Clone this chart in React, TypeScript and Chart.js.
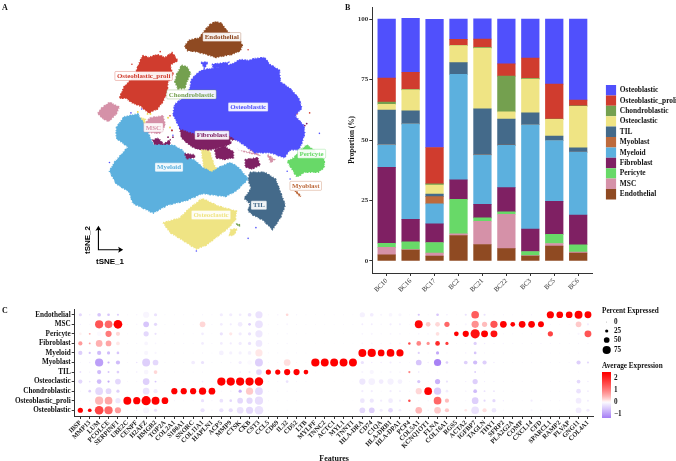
import React, { useEffect, useRef } from "react";
import { Chart, registerables } from "chart.js";
Chart.register(...registerables);

const SERIF = "'Liberation Serif', serif";
const SANS = "'Liberation Sans', sans-serif";

// ---------- colours ----------
const cOsteoblastic = "#5050fc";
const cProli = "#d03c2e";
const cChondro = "#74a04f";
const cClast = "#efe484";
const cTIL = "#446a8a";
const cMyoblast = "#bd6a3c";
const cMyeloid = "#5cb0de";
const cFibro = "#7f2063";
const cPericyte = "#68d968";
const cMSC = "#d591a8";
const cEndo = "#8f4a22";

// ---------- panel B: stacked proportions ----------
const samples = ["BC10", "BC16", "BC17", "BC2", "BC21", "BC22", "BC3", "BC5", "BC6"];
const propEndothelial = [2.5, 4.5, 2, 10.5, 6.8, 5.1, 2, 6.1, 3.2];
const propMSC = [3.1, 0.2, 1.2, 0.7, 9.6, 14.2, 0.2, 1.1, 0.5];
const propPericyte = [1.7, 3.2, 4.4, 14.3, 1.4, 1, 1.7, 3.8, 3];
const propFibroblast = [31.4, 9.3, 7.7, 8, 5.6, 10, 9.3, 13.6, 12.3];
const propMyeloid = [9.3, 39.5, 8.3, 43.7, 20.4, 17.5, 43.1, 25.2, 26];
const propMyoblast = [0.1, 0, 3, 0, 0.1, 0.1, 0, 0, 0];
const propTIL = [14.3, 5.4, 1, 4.8, 19, 10.7, 4.9, 1.8, 1.8];
const propOsteoclastic = [2.3, 8.6, 3.8, 7, 25.1, 3, 14, 6.9, 17.1];
const propChondroblastic = [1, 0.3, 0.5, 0.2, 0.3, 14.8, 0.3, 0.2, 0.2];
const propProli = [9.9, 7, 15, 2.4, 3.4, 5.1, 8.4, 14.4, 2.4];
const propOsteoblastic = [24.4, 22.3, 53, 8.4, 8.4, 18.5, 16.1, 26.9, 33.5];
const propSeries: [string, number[], string][] = [
  ["Endothelial", propEndothelial, cEndo],
  ["MSC", propMSC, cMSC],
  ["Pericyte", propPericyte, cPericyte],
  ["Fibroblast", propFibroblast, cFibro],
  ["Myeloid", propMyeloid, cMyeloid],
  ["Myoblast", propMyoblast, cMyoblast],
  ["TIL", propTIL, cTIL],
  ["Osteoclastic", propOsteoclastic, cClast],
  ["Chondroblastic", propChondroblastic, cChondro],
  ["Osteoblastic_proli", propProli, cProli],
  ["Osteoblastic", propOsteoblastic, cOsteoblastic],
];

// ---------- panel C: dot plot ----------
const features = ["IBSP","MMP13","LUM","PCOLCE","SERPINF1","UBE2C","CENPF","H2AFZ","HMGB2","TOP2A","COL2A1","S100A1","SNORC","COL11A1","HAPLN1","ACP5","MMP9","CTSK","CKB","CST3","CCL5","CD69","IL32","CD52","LTB","MYLPF","TNNC2","ACTC1","MYL1","TNNT1","HLA-DRA","CD74","C1QA","HLA-DRB1","HLA-DPA1","PCP4","COL5A1","KCNQ1OT1","FLNA","COL16A1","RGS5","ACTA2","IGFBP7","TAGLN","THY1","SFRP2","PLA2G2A","COMP","CXCL14","CFD","SPARCL1","RAMP2","PLVAP","GNG11","COL4A1"];
const rowNames = ["Osteoblastic","Osteoblastic_proli","Chondroblastic","Osteoclastic","TIL","Myoblast","Myeloid","Fibroblast","Pericyte","MSC","Endothelial"];

const pctOsteoblastic = [45,30,80,75,55,3,8,55,25,5,5,5,3,35,8,35,35,60,65,80,3,5,6,3,2,2,2,2,2,2,50,50,25,40,20,3,60,10,60,35,3,20,70,35,40,8,4,5,15,10,5,6,3,50,25];
const expOsteoblastic = [2.5,2.5,1.6,1.2,.7,-.1,-.2,-.1,-.3,-.1,-.1,-.1,-.1,-.3,-.1,-.3,-.35,-.3,-.4,-.3,-.1,-.1,-.1,-.1,-.1,-.1,-.1,-.1,-.1,-.1,-.4,-.5,-.2,-.4,-.2,-.1,.45,-.1,.3,.3,-.1,.1,-.3,.15,-.25,-.1,-.1,-.1,-.1,-.1,-.1,-.1,-.1,-.2,-.2];
const pctProli = [5,5,75,70,45,72,65,85,72,60,5,4,3,25,6,30,20,50,55,75,3,4,4,4,2,2,2,2,2,2,40,35,15,40,15,18,5,8,70,35,3,5,60,15,25,8,4,3,15,6,5,5,3,50,12];
const expProli = [-.1,-.1,.45,.6,-.25,2.5,2.5,2.5,2.5,2.5,-.1,-.1,-.1,-.3,-.1,-.3,-.4,-.4,-.4,-.35,-.1,-.1,-.1,-.1,-.1,-.1,-.1,-.1,-.1,-.1,-.25,-.25,-.2,-.2,-.2,1.5,-.1,-.1,1.2,.4,-.1,-.1,-.5,-.4,-.4,-.2,-.1,-.1,-.2,-.1,-.1,-.1,-.1,-.2,-.2];
const pctChondro = [5,20,70,50,25,3,5,60,35,5,55,55,55,65,60,5,10,25,65,70,3,5,5,3,2,2,2,2,2,2,15,15,4,15,10,3,55,70,65,20,3,10,30,12,10,5,3,3,6,5,3,3,3,40,10];
const expChondro = [-.1,-.5,-.4,-.4,-.5,-.1,-.1,-.3,-.2,-.1,2.5,2.5,2.5,2.5,2.5,-.1,-.1,-.8,.3,-.4,-.1,-.1,-.1,-.1,-.1,-.1,-.1,-.1,-.1,-.1,-.2,-.2,-.1,-.2,-.2,-.1,.2,2.5,-.55,-.2,-.1,-.1,-.7,-.3,-.3,-.1,-.1,-.1,-.1,-.1,-.1,-.1,-.1,-.3,-.2];
const pctClast = [35,10,40,15,50,4,5,60,12,3,3,5,3,10,3,75,75,75,75,78,5,5,20,5,3,2,2,2,2,2,55,60,40,55,40,3,25,5,45,15,3,6,45,6,5,4,3,3,5,4,3,3,3,30,8];
const expClast = [-.4,-.3,-.7,-.9,-.4,-.1,-.1,-.5,-.6,-.1,-.1,-.1,-.1,-.2,-.1,2.5,2.5,2.5,2.5,2.5,-.1,-.1,-.3,-.1,-.1,-.1,-.1,-.1,-.1,-.1,-.25,-.15,-.2,-.15,-.15,-.1,-.6,-.1,-.8,-.3,-.1,-.2,-.5,-.2,-.2,-.1,-.1,-.1,-.1,-.1,-.1,-.1,-.1,-.4,-.2];
const pctTIL = [12,5,35,12,20,3,8,40,30,3,3,3,3,5,3,6,5,10,15,50,45,45,55,55,40,2,2,2,2,2,15,35,6,15,10,15,8,4,3,4,2,3,12,3,3,2,2,2,2,3,2,2,2,3,3];
const expTIL = [-.3,-.2,-.7,-.6,-.5,-.1,-.2,-.1,.2,-.1,-.1,-.1,-.1,-.1,-.1,-.1,-.1,-.2,-.2,-.4,2.5,2.5,2.5,2.5,2.5,-.1,-.1,-.1,-.1,-.1,-.1,-.1,-.1,-.1,-.1,.9,-.3,-.1,-.1,-.1,-.1,-.1,-.5,-.1,-.1,-.1,-.1,-.1,-.1,-.1,-.1,-.1,-.1,-.1,-.1];
const pctMyoblast = [5,6,75,15,35,3,8,72,50,5,3,5,30,25,5,5,10,25,40,72,3,5,60,5,3,75,72,72,72,72,25,8,8,15,8,3,50,8,65,20,5,30,35,35,8,5,3,3,6,5,5,5,5,35,15];
const expMyoblast = [-.1,-.2,-1,-.8,-.7,-.1,-.3,-.5,-.4,-.1,-.1,-.1,-.2,-.3,-.1,-.1,-.1,-.2,-.05,-.5,-.1,-.1,.15,-.1,-.1,2.5,2.5,2.5,2.5,2.5,-.3,-.2,-.2,-.2,-.2,-.1,-.6,-.2,-1.3,-.5,-.1,-.5,-.7,-.5,-.2,-.1,-.1,-.1,-.1,-.1,-.1,-.1,-.1,-.5,-.4];
const pctMyeloid = [35,15,35,25,20,3,5,35,15,3,3,3,3,8,3,40,25,25,30,65,5,6,6,6,3,2,2,2,2,2,72,75,60,70,65,3,15,5,25,5,2,6,20,5,4,3,2,2,3,4,3,3,3,4,4];
const expMyeloid = [-.5,-.6,-.7,-.7,-.6,-.1,-.1,-.1,-.1,-.1,-.1,-.1,-.1,-.1,-.1,-.15,-.15,-.15,-.15,.1,-.1,-.1,-.1,-.1,-.1,-.1,-.1,-.1,-.1,-.1,2.5,2.5,2.5,2.5,2.5,-.1,-.5,-.1,-.9,-.1,-.1,-.2,-.6,-.1,-.1,-.1,-.1,-.1,-.1,-.1,-.1,-.1,-.1,-.1,-.1];
const pctFibro = [35,12,60,50,30,3,5,30,10,3,3,5,3,20,4,20,15,25,25,60,4,5,8,3,2,2,2,2,2,2,12,12,6,12,10,18,40,25,40,25,3,5,25,8,6,8,4,3,4,8,5,4,3,5,6];
const expFibro = [.7,.6,.5,.6,.1,-.1,-.1,-.1,-.1,-.1,-.1,-.1,-.1,-.2,-.1,-.2,-.2,-.2,-.3,-.25,-.1,-.1,-.1,-.1,-.1,-.1,-.1,-.1,-.1,-.1,-.1,-.1,-.1,-.1,-.1,1.5,.9,.8,1.9,1.7,-.1,-.1,-.5,-.2,-.1,-.1,-.1,-.1,-.1,-.1,-.1,-.1,-.1,-.1,-.1];
const pctPericyte = [20,12,40,55,35,3,4,45,15,3,3,5,3,20,3,25,25,25,25,65,3,5,8,3,3,2,2,2,2,2,12,15,6,12,10,2,10,15,30,5,40,55,85,62,62,5,4,3,6,5,45,4,3,15,62];
const expPericyte = [.05,.5,-.05,1,.2,-.1,-.1,-.4,-.3,-.1,-.1,-.1,-.1,-.2,-.1,-.3,.1,-.2,-.3,-.25,-.1,-.1,-.1,-.1,-.1,-.1,-.1,-.1,-.1,-.1,-.1,-.1,-.1,-.1,-.1,-.1,-.1,-.05,.15,-.1,2.4,2.4,2.2,2.4,2.2,-.1,-.1,-.1,-.1,-.1,1.6,-.1,-.1,-.1,1.4];
const pctMSC = [5,4,75,70,80,5,8,50,25,5,4,5,4,50,5,20,15,40,20,70,4,6,12,5,3,3,3,3,3,3,12,12,8,15,12,3,72,40,40,45,3,15,65,45,65,60,40,60,60,52,5,3,3,50,15];
const expMSC = [-.2,-.1,1.4,1.2,2.5,-.1,-.1,-.6,-.4,-.1,-.1,-.1,-.1,.2,-.1,-.2,-.2,-.2,-.5,-.3,-.1,-.1,-.1,-.1,-.1,-.1,-.1,-.1,-.1,-.1,-.2,-.2,-.1,-.2,-.2,-.1,2.3,.3,.2,1.2,-.1,-.1,.8,.4,1.4,2.4,2.4,2.4,2.4,2.4,-.1,-.1,-.1,.3,-.2];
const pctEndo = [25,8,30,20,15,3,8,55,25,5,3,5,4,8,5,25,25,20,30,65,5,10,20,8,4,2,3,3,3,3,45,30,15,30,25,3,15,5,20,8,2,15,70,15,5,6,5,3,6,4,65,60,60,72,62];
const expEndo = [-.4,-.2,-.6,-.6,-.5,-.1,-.1,-.1,-.3,-.1,-.1,-.1,-.1,-.1,-.1,-.2,-.2,-.2,-.3,-.3,-.1,-.1,.2,-.1,-.1,-.1,-.1,-.1,-.1,-.1,-.15,-.2,-.1,-.1,-.1,-.1,-.6,-.1,-.6,-.2,-.1,-.3,1.3,-.3,-.1,-.1,-.1,-.1,-.1,-.1,2.4,2.4,2.4,2.4,2.4];
const dotRows: [number[], number[]][] = [
  [pctOsteoblastic, expOsteoblastic],[pctProli, expProli],[pctChondro, expChondro],[pctClast, expClast],
  [pctTIL, expTIL],[pctMyoblast, expMyoblast],[pctMyeloid, expMyeloid],[pctFibro, expFibro],
  [pctPericyte, expPericyte],[pctMSC, expMSC],[pctEndo, expEndo],
];
const legendPct = [0, 25, 50, 75];
const legendExp = [2, 1, 0, -1];

// ---------- panel A: t-SNE cell clouds (outlines) ----------
type P = [number, number];
const tsneBlue: P[] = [[192,78],[197,72],[203,68],[220,65],[233,62],[242,57],[250,58],[257,56],[267,55],[272,62],[282,68],[283,80],[293,87],[302,97],[305,107],[298,115],[307,125],[308,133],[305,143],[302,150],[293,150],[287,158],[273,153],[257,153],[243,143],[230,135],[200,135],[180,128],[173,113],[175,103],[185,95],[190,88]];
const tsneBlue2: P[] = [[202,60],[209,60],[205,66]];
const tsneBlue3: P[] = [[213,62],[230,60],[228,64],[215,66]];
const tsneGap1: P[] = [[234,72],[243,70],[247,78],[240,83],[236,78]];
const tsneGap2: P[] = [[284,88],[288,95],[289,107],[285,103]];
const tsneGap3: P[] = [[198,118],[208,119],[208,126],[200,125]];
const tsneGap4: P[] = [[232,140],[243,143],[253,152],[240,150]];
const tsneFibro1: P[] = [[200,100],[217,107],[233,112],[263,113],[267,123],[258,132],[252,138],[235,140],[230,145],[212,150],[197,149],[190,145],[182,138],[180,128],[185,122],[197,118],[203,110]];
const tsneFibro2: P[] = [[216,150],[225,146],[235,152],[235,158],[225,160],[217,158]];
const tsneFibro3: P[] = [[247,160],[260,158],[262,166],[253,170],[247,167]];
const tsneFibro4: P[] = [[175,175],[183,175],[187,181],[180,183],[176,180]];
const tsneFibro5: P[] = [[185,154],[195,155],[195,158],[187,159]];
const tsneFibro6: P[] = [[152,140],[158,138],[163,144],[170,140],[170,146],[160,146],[155,145]];
const tsneMyeloid: P[] = [[115,127],[123,116],[137,113],[143,123],[150,138],[153,145],[173,145],[182,150],[190,158],[197,162],[203,168],[213,173],[220,168],[232,163],[240,168],[250,180],[238,192],[227,198],[203,195],[187,202],[167,207],[153,215],[132,205],[128,193],[115,185],[108,172],[113,163],[127,147],[115,138]];
const tsneClast1: P[] = [[163,225],[180,220],[190,210],[203,200],[220,208],[238,213],[237,222],[230,230],[220,238],[207,248],[197,252],[183,243],[170,235]];
const tsneClast2: P[] = [[202,150],[210,150],[215,165],[222,177],[213,177],[205,170]];
const tsneClast3: P[] = [[137,117],[145,118],[143,126],[136,123]];
const tsneClast4: P[] = [[232,232],[239,231],[235,238],[231,238]];
const tsneTIL: P[] = [[252,173],[267,173],[278,180],[283,193],[288,207],[283,220],[275,232],[265,222],[255,217],[250,213],[252,205],[246,200],[253,190],[250,180]];
const tsnePericyte: P[] = [[302,152],[310,145],[317,150],[328,160],[328,168],[322,173],[308,173],[300,178],[290,162],[297,158]];
const tsneEndo: P[] = [[211,21],[217,18],[223,20],[227,26],[232,31],[241,35],[244,43],[242,48],[233,52],[227,53],[217,55],[208,52],[197,49],[188,48],[185,43],[190,37],[200,35],[205,28]];
const tsneProli: P[] = [[142,53],[148,55],[157,52],[165,55],[172,50],[178,58],[170,63],[173,72],[168,80],[167,90],[163,100],[157,108],[148,112],[140,105],[132,102],[125,97],[118,97],[123,85],[130,78],[135,70],[138,62]];
const tsneChondro: P[] = [[182,63],[188,65],[191,72],[188,78],[185,87],[178,87],[175,80],[177,72]];
const tsneMSC1: P[] = [[100,107],[108,101],[118,106],[115,113],[107,121],[100,117],[96,112]];
const tsneMSC2: P[] = [[150,117],[163,115],[165,125],[160,133],[147,132],[144,123]];
const tsneMSC3: P[] = [[240,147],[253,150],[260,155],[250,153],[240,150]];
const tsneMSC4: P[] = [[270,155],[277,160],[273,163]];
const tsneMyoblast: P[] = [[300,193],[304,198],[303,198],[299,193]];
const tsneChondroBit: P[] = [[238,226],[241,227],[241,228],[238,227]];
const tsnePolygons: [P[], string][] = [
  [tsneBlue, cOsteoblastic],[tsneBlue2, cOsteoblastic],[tsneBlue3, cOsteoblastic],
  [tsneGap1, "#ffffff"],[tsneGap2, "#ffffff"],[tsneGap4, "#ffffff"],
  [tsneFibro1, cFibro],[tsneGap3, "#ffffff"],[tsneFibro2, cFibro],[tsneFibro3, cFibro],[tsneFibro5, cFibro],[tsneMSC3, cMSC],[tsneMSC4, cMSC],
  [tsneMyeloid, cMyeloid],[tsneFibro4, cFibro],[tsneFibro6, cFibro],
  [tsneClast1, cClast],[tsneClast2, cClast],[tsneClast3, cClast],[tsneClast4, cClast],
  [tsneTIL, cTIL],[tsnePericyte, cPericyte],[tsneEndo, cEndo],[tsneProli, cProli],
  [tsneChondro, cChondro],[tsneMSC1, cMSC],[tsneMSC2, cMSC],[tsneMyoblast, cMyoblast],[tsneChondroBit, cChondro],
];
const specksRed: P[] = [[131,62],[160,49],[250,47],[300,113],[313,112],[295,120],[170,115],[172,130],[322,170],[315,155],[125,128]];
const specksBlue: P[] = [[130,112],[141,108],[173,135],[258,230],[250,241],[197,254],[183,229],[293,180],[290,172],[108,163],[323,133],[266,57],[300,135]];
const specksFibro: P[] = [[118,127],[160,129],[173,137],[172,130],[168,137],[122,160],[143,200],[145,205],[156,167],[185,196],[310,123],[304,130],[308,125]];
const specksYellow: P[] = [[137,111],[147,113],[170,127],[225,155],[252,150],[168,117],[150,113],[147,147]];
const specksWhite: P[] = [[150,70],[160,80],[145,90],[210,40],[225,45],[200,45],[130,180],[150,190],[170,185],[190,175],[215,185],[205,220],[225,225],[265,190],[270,205],[262,180],[315,165],[240,85],[265,75],[280,120],[260,145]];
const tsneLabels: [string, number, number, string][] = [
  ["Endothelial", 223, 34, cEndo],["Osteoblastic_proli", 143, 74, cProli],["Chondroblastic", 192, 93, cChondro],
  ["Osteoblastic", 250, 106, cOsteoblastic],["MSC", 153, 127, cMSC],["Fibroblast", 213, 135, cFibro],
  ["Myeloid", 169, 168, cMyeloid],["Osteoclastic", 212, 217, cClast],["TIL", 261, 207, cTIL],
  ["Pericyte", 315, 154, cPericyte],["Myoblast", 309, 187, cMyoblast],
];

function expColor(v: number): string {
  const mix = (a: number[], t: number) => {
    const c = a.map((k) => Math.round(255 + (k - 255) * t));
    return `rgb(${c[0]},${c[1]},${c[2]})`;
  };
  if (v >= 0) {
    const t = Math.min(1, v / 2.4);
    return mix([255, 0, 0], Math.pow(t, 0.75));
  }
  return mix([165, 125, 245], Math.min(1, -v / 1.35));
}
const pctRadius = (p: number) => 0.35 + p / 20;

const tsneOverlay = {
  id: "tsneOverlay",
  afterDatasetsDraw(chart: any) {
    const { ctx, scales } = chart;
    ctx.save();
    ctx.font = `bold 6.9px ${SERIF}`;
    ctx.textAlign = "center";
    ctx.textBaseline = "middle";
    for (const [text, x, y, col] of tsneLabels) {
      const px = scales.x.getPixelForValue(x);
      const py = scales.y.getPixelForValue(y);
      const w = ctx.measureText(text).width + 4;
      ctx.beginPath();
      ctx.roundRect(px - w / 2, py - 4.5, w, 9, 1);
      ctx.globalAlpha = 0.92;
      ctx.fillStyle = "#fff";
      ctx.fill();
      ctx.globalAlpha = 0.45;
      ctx.strokeStyle = col;
      ctx.lineWidth = 0.7;
      ctx.stroke();
      ctx.globalAlpha = 1;
      ctx.fillStyle = col;
      ctx.fillText(text, px, py + 0.3);
    }
    // tSNE direction arrows
    const ox = scales.x.getPixelForValue(96.7);
    const oy = scales.y.getPixelForValue(252.7);
    const ex = scales.x.getPixelForValue(121);
    const ey = scales.y.getPixelForValue(229);
    ctx.strokeStyle = "#000";
    ctx.fillStyle = "#000";
    ctx.lineWidth = 1.1;
    ctx.beginPath();
    ctx.moveTo(ox, ey + 2);
    ctx.lineTo(ox, oy);
    ctx.lineTo(ex - 2, oy);
    ctx.stroke();
    ctx.beginPath();
    ctx.moveTo(ox, ey - 1);
    ctx.lineTo(ox - 3, ey + 4);
    ctx.lineTo(ox, ey + 3);
    ctx.lineTo(ox + 3, ey + 4);
    ctx.closePath();
    ctx.fill();
    ctx.beginPath();
    ctx.moveTo(ex + 1, oy);
    ctx.lineTo(ex - 4, oy - 3);
    ctx.lineTo(ex - 3, oy);
    ctx.lineTo(ex - 4, oy + 3);
    ctx.closePath();
    ctx.fill();
    ctx.font = `bold 8px ${SANS}`;
    ctx.textAlign = "left";
    ctx.fillText("tSNE_1", 96, 261.5);
    ctx.save();
    ctx.translate(88, 240);
    ctx.rotate(-Math.PI / 2);
    ctx.textAlign = "center";
    ctx.fillText("tSNE_2", 0, 0);
    ctx.restore();
    ctx.restore();
  },
};

const dotLegend = {
  id: "dotLegend",
  afterDraw(chart: any) {
    const { ctx } = chart;
    ctx.save();
    ctx.textBaseline = "middle";
    ctx.fillStyle = "#111";
    ctx.font = `bold 7.2px ${SERIF}`;
    ctx.fillText("Percent Expressed", 602, 11);
    legendPct.forEach((p, i) => {
      const y = [22, 31, 40, 50][i];
      ctx.beginPath();
      ctx.arc(606.7, y, pctRadius(p), 0, Math.PI * 2);
      ctx.fillStyle = "#000";
      ctx.fill();
      ctx.fillStyle = "#111";
      ctx.fillText(String(p), 614, y);
    });
    ctx.fillText("Average Expression", 602, 66);
    const top = 72, bot = 118;
    const g = ctx.createLinearGradient(0, top, 0, bot);
    const n = 30;
    for (let i = 0; i <= n; i++) {
      const v = 2.47 - (i / n) * (2.47 + 1.35);
      g.addColorStop(i / n, expColor(v));
    }
    ctx.fillStyle = g;
    ctx.fillRect(602, top, 9, bot - top);
    ctx.fillStyle = "#111";
    legendExp.forEach((v) => {
      const y = top + ((2.47 - v) / 3.82) * (bot - top);
      ctx.fillText(v < 0 ? "\u2212" + Math.abs(v) : String(v), 614, y);
    });
    ctx.restore();
  },
};

// moves the bar chart's legend box to where the reference has it
const legendPlace = {
  id: "legendPlace",
  afterLayout(chart: any) {
    const lg = chart.legend;
    const w = lg.width;
    lg.left = 605.7 - 348;
    lg.right = lg.left + w;
    lg.top = 85;
  },
};

const panelLetters: [string, number, number][] = [["A", 2, 8], ["B", 345, 8], ["C", 2, 311]];
const axisColor = "#333";

export default function App() {
  const aRef = useRef<HTMLCanvasElement>(null);
  const bRef = useRef<HTMLCanvasElement>(null);
  const cRef = useRef<HTMLCanvasElement>(null);

  useEffect(() => {
    const closed = (pts: P[]) => [...pts, pts[0]].map(([x, y]) => ({ x, y }));
    const chartA = new Chart(aRef.current!, {
      type: "scatter",
      data: {
        datasets: [
          ...tsnePolygons.map(([pts, col]) => ({
            data: closed(pts),
            showLine: true,
            fill: "shape" as any,
            backgroundColor: col,
            borderColor: col,
            borderWidth: 1.6,
            borderDash: [1, 1.6, 2, 0.8, 0.7, 1.9],
            pointRadius: 0,
            tension: 0,
          })),
          { data: specksWhite.map(([x, y]) => ({ x, y })), backgroundColor: "#fff", pointRadius: 0.9, borderWidth: 0 },
          { data: specksRed.map(([x, y]) => ({ x, y })), backgroundColor: cProli, pointRadius: 0.8, borderWidth: 0 },
          { data: specksBlue.map(([x, y]) => ({ x, y })), backgroundColor: cOsteoblastic, pointRadius: 0.8, borderWidth: 0 },
          { data: specksFibro.map(([x, y]) => ({ x, y })), backgroundColor: cFibro, pointRadius: 0.9, borderWidth: 0 },
          { data: specksYellow.map(([x, y]) => ({ x, y })), backgroundColor: "#e8d84a", pointRadius: 0.9, borderWidth: 0 },
        ],
      },
      options: {
        animation: false,
        responsive: false,
        layout: { padding: 0 },
        plugins: { legend: { display: false }, tooltip: { enabled: false } },
        scales: {
          x: { type: "linear", min: 0, max: 340, display: false },
          y: { type: "linear", min: 0, max: 290, reverse: true, display: false },
        },
      },
      plugins: [tsneOverlay],
    } as any);

    const chartB = new Chart(bRef.current!, {
      type: "bar",
      data: {
        datasets: propSeries.map(([label, vals, col]) => ({
          label,
          data: vals.map((v, i) => ({ x: i, y: v })),
          backgroundColor: col,
          borderWidth: 0,
          barThickness: 17.6,
        })),
      },
      options: {
        animation: false,
        responsive: false,
        layout: { padding: { top: 7, right: 2, bottom: 0, left: 0 } },
        plugins: {
          tooltip: { enabled: false },
          legend: {
            position: "right",
            align: "start",
            reverse: true,
            labels: {
              boxWidth: 10.4,
              boxHeight: 10.4,
              padding: 0,
              color: "#111",
              font: { family: SERIF, size: 7.4, weight: "bold" },
            },
          },
        },
        scales: {
          x: {
            type: "linear",
            stacked: true,
            offset: false,
            min: -0.6,
            max: 8.6,
            border: { color: axisColor, width: 1 },
            grid: { display: true, offset: false, drawOnChartArea: false, color: axisColor, tickLength: 3 },
            ticks: {
              stepSize: 1,
              includeBounds: false,
              autoSkip: false,
              minRotation: 45,
              maxRotation: 45,
              padding: 1,
              color: "#333",
              font: { family: SERIF, size: 6.8 },
              callback: (v: any) => samples[v] ?? "",
            },
            afterFit: (s: any) => { s.height = 310 - 273; s.paddingLeft = 0; s.paddingRight = 0; },
          },
          y: {
            stacked: true,
            min: -5,
            max: 105,
            border: { color: axisColor, width: 1 },
            grid: { display: true, drawOnChartArea: false, color: axisColor, tickLength: 3 },
            ticks: {
              stepSize: 25,
              includeBounds: false,
              padding: 1,
              color: "#333",
              font: { family: SERIF, size: 7, weight: "bold" },
            },
            title: {
              display: true,
              text: "Proportion (%)",
              color: "#111",
              padding: 0,
              font: { family: SERIF, size: 7.2, weight: "bold" },
            },
            afterFit: (s: any) => { s.width = 372.3 - 348; },
          },
        },
      },
      plugins: [legendPlace],
    } as any);

    const chartC = new Chart(cRef.current!, {
      type: "bubble",
      data: {
        datasets: dotRows.map(([pct, exp], row) => ({
          data: features.map((_, col) => ({ x: col, y: row, r: pctRadius(pct[col]), e: exp[col] })),
          backgroundColor: (c: any) => expColor(c.raw?.e ?? 0),
          borderWidth: 0,
          hoverRadius: 0,
        })),
      },
      options: {
        animation: false,
        responsive: false,
        layout: { padding: { top: 9, right: 676 - 593.6, bottom: 0, left: 0 } },
        plugins: { legend: { display: false }, tooltip: { enabled: false } },
        scales: {
          x: {
            type: "linear",
            min: -0.6,
            max: 54.6,
            border: { color: axisColor, width: 1 },
            grid: { display: true, drawOnChartArea: false, color: axisColor, tickLength: 3 },
            ticks: {
              stepSize: 1,
              includeBounds: false,
              autoSkip: false,
              minRotation: 45,
              maxRotation: 45,
              padding: 0,
              color: "#222",
              font: { family: SERIF, size: 6.6, weight: "bold" },
              callback: (v: any) => features[v] ?? "",
            },
            title: {
              display: true,
              text: "Features",
              color: "#111",
              padding: { top: 0, bottom: -3 },
              font: { family: SERIF, size: 8, weight: "bold" },
            },
            afterFit: (s: any) => { s.height = 45; s.paddingLeft = 0; s.paddingRight = 0; },
          },
          y: {
            type: "linear",
            min: -0.6,
            max: 10.6,
            border: { color: axisColor, width: 1 },
            grid: { display: true, drawOnChartArea: false, color: axisColor, tickLength: 3 },
            ticks: {
              stepSize: 1,
              includeBounds: false,
              autoSkip: false,
              padding: 1,
              color: "#111",
              font: { family: SERIF, size: 7.2, weight: "bold" },
              callback: (v: any) => rowNames[v] ?? "",
            },
            afterFit: (s: any) => { s.width = 74.7; s.paddingTop = 0; s.paddingBottom = 0; },
          },
        },
      },
      plugins: [dotLegend],
    } as any);

    return () => {
      chartA.destroy();
      chartB.destroy();
      chartC.destroy();
    };
  }, []);

  const abs = (l: number, t: number): React.CSSProperties => ({ position: "absolute", left: l, top: t, display: "block" });
  return (
    <div style={{ position: "absolute", left: 0, top: 0, width: 676, height: 461, background: "#fff", overflow: "hidden" }}>
      <canvas ref={aRef} width={340} height={290} style={abs(0, 0)} />
      <canvas ref={bRef} width={328} height={310} style={abs(348, 0)} />
      <canvas ref={cRef} width={676} height={161} style={abs(0, 300)} />
      {panelLetters.map(([t, x, y]) => (
        <div key={t} style={{ position: "absolute", left: x, top: y - 5, font: `bold 8px ${SERIF}`, lineHeight: "10px", color: "#111" }}>
          {t}
        </div>
      ))}
    </div>
  );
}
